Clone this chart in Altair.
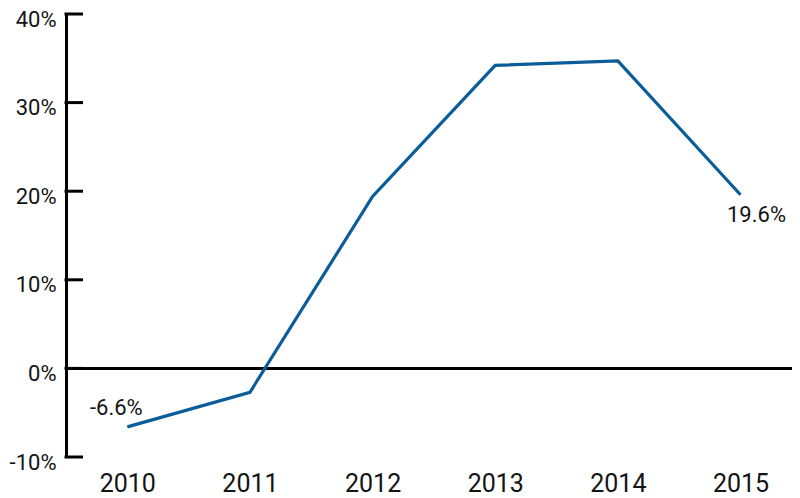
import altair as alt
import pandas as pd

years = [2010, 2011, 2012, 2013, 2014, 2015]
values = [-6.6, -2.7, 19.4, 34.2, 34.7, 19.6]
y_ticks = [-10, 0, 10, 20, 30, 40]

FONT = "Roboto"
BLUE = "#0b5d99"
INK = "#141414"
W = 726
H = 443

df = pd.DataFrame({"year": years, "value": values})
ticks_df = pd.DataFrame({"v": y_ticks})
zero_df = pd.DataFrame({"v": [0]})

x_scale = alt.Scale(domain=[2009.5, 2015.42], nice=False, zero=False)
y_scale = alt.Scale(domain=[-10, 40], nice=False)

base = alt.Chart(df)

line = base.mark_line(color=BLUE, strokeWidth=3.2).encode(
    x=alt.X("year:Q", scale=x_scale,
            axis=alt.Axis(values=years, format="d", title=None, domain=False,
                          ticks=False, tickSize=0, grid=False, labelFont=FONT,
                          labelFontSize=25, labelColor=INK, labelPadding=14)),
    y=alt.Y("value:Q", scale=y_scale,
            axis=alt.Axis(values=y_ticks, title=None, domain=True, domainColor="#000000",
                          domainWidth=3, ticks=False, tickSize=0, grid=False,
                          labelExpr="datum.value + '%'", labelFont=FONT,
                          labelFontSize=22, labelColor=INK, labelPadding=10,
                          labelOffset=5)),
)

zero = alt.Chart(zero_df).mark_rule(color="#000000", strokeWidth=3).encode(
    y=alt.Y("v:Q", scale=y_scale),
    x=alt.value(0), x2=alt.value(W + 10),
)

tick_marks = alt.Chart(ticks_df).mark_rule(color="#000000", strokeWidth=3).encode(
    y=alt.Y("v:Q", scale=y_scale),
    x=alt.value(-1.5), x2=alt.value(17),
)

first = alt.Chart(df[df.year == 2010]).mark_text(
    font=FONT, fontSize=22, color=INK, dx=-11, dy=-19
).transform_calculate(lbl="toString(datum.value) + '%'").encode(
    x=alt.X("year:Q", scale=x_scale), y=alt.Y("value:Q", scale=y_scale),
    text="lbl:N",
)

last = alt.Chart(df[df.year == 2015]).mark_text(
    font=FONT, fontSize=22, color=INK, dx=16, dy=20
).transform_calculate(lbl="toString(datum.value) + '%'").encode(
    x=alt.X("year:Q", scale=x_scale), y=alt.Y("value:Q", scale=y_scale),
    text="lbl:N",
)

chart = alt.layer(zero, tick_marks, line, first, last).properties(
    width=W, height=H,
    autosize=alt.AutoSizeParams(type="none"),
    padding={"left": 58, "top": 6, "right": 0, "bottom": 40},
).configure_view(stroke=None)

chart.save("out.html", embed_options={"renderer": "svg", "actions": False})
